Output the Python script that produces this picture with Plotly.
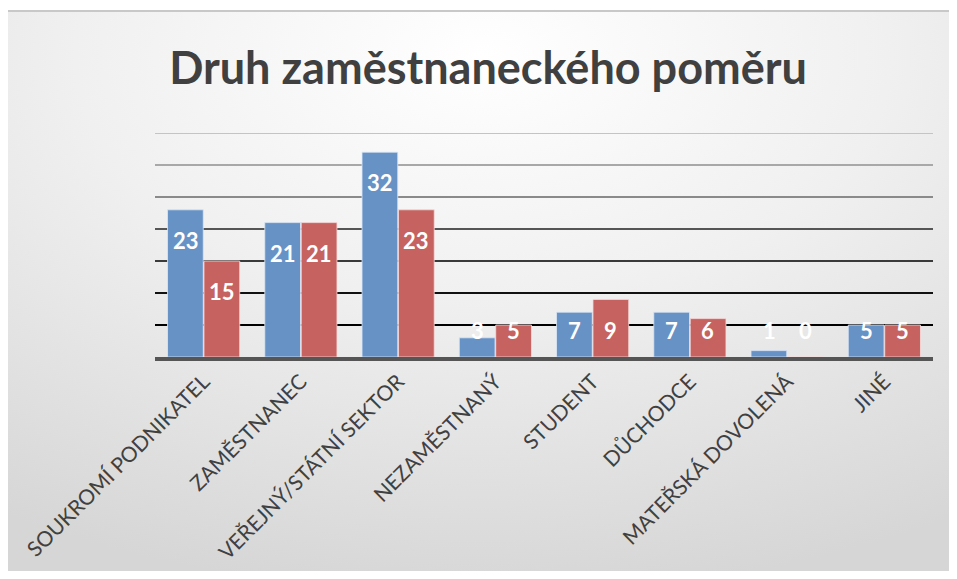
import base64
import plotly.graph_objects as go

categories = ["SOUKROMÍ PODNIKATEL", "ZAMĚSTNANEC", "VEŘEJNÝ/STÁTNÍ SEKTOR", "NEZAMĚSTNANÝ",
              "STUDENT", "DŮCHODCE", "MATEŘSKÁ DOVOLENÁ", "JINÉ"]
series_a = [23, 21, 32, 3, 7, 7, 1, 5]
series_b = [15, 21, 23, 5, 9, 6, 0, 5]
grid_values = [5, 10, 15, 20, 25, 30, 35]
grid_colors = ["#000000", "#111111", "#3a3a3a", "#555555", "#8a8a8a", "#a8a8a8", "#c4c4c4"]
title_text = "Druh zaměstnaneckého poměru"

OFF = 8  # page body margin
W, H = 957 - OFF, 579 - 2 * OFF
L, T = 155 - OFF, 133 - OFF
R = W - (933 - OFF)
B = H - (357 - OFF)
pw, ph = W - L - R, H - T - B

svg = f'''<svg xmlns="http://www.w3.org/2000/svg" width="953" height="569" viewBox="0 0 953 569">
<defs><radialGradient id="g" cx="0.5" cy="0.08" r="0.95" gradientUnits="objectBoundingBox">
<stop offset="0" stop-color="#ffffff"/><stop offset="0.45" stop-color="#f0f0f0"/><stop offset="1" stop-color="#d6d6d6"/></radialGradient></defs>
<rect x="0" y="0" width="953" height="569" fill="url(#g)"/>
<rect x="1" y="1" width="947" height="600" fill="none" stroke="#c8c8c8" stroke-width="2"/>
</svg>'''
src = "data:image/svg+xml;base64," + base64.b64encode(svg.encode()).decode()

fig = go.Figure()
blue = "#6792C6"
red = "#C6625F"
fig.add_trace(go.Bar(x=categories, y=series_a, marker=dict(color=blue, line=dict(color="rgba(220,230,245,0.8)", width=1)), name="A"))
fig.add_trace(go.Bar(x=categories, y=series_b, marker=dict(color=red, line=dict(color="rgba(245,220,220,0.8)", width=1)), name="B"))

annotations = []
for i, c in enumerate(categories):
    for vals, sh in ((series_a, -18), (series_b, 18)):
        v = vals[i]
        annotations.append(dict(x=c, y=max(v - 4.8, 4.2), xref="x", yref="y", text=f"<b>{v}</b>",
                                showarrow=False, xshift=sh, font=dict(family="Lato", size=22, color="white")))

shapes = []
for gv, gc in zip(grid_values, grid_colors):
    shapes.append(dict(type="line", xref="x domain", yref="y", x0=0, x1=1, y0=gv, y1=gv,
                       line=dict(color=gc, width=2), layer="below"))

fig.update_layout(
    width=W, height=H,
    margin=dict(l=L, r=R, t=T, b=B, autoexpand=False),
    paper_bgcolor="white", plot_bgcolor="rgba(0,0,0,0)",
    showlegend=False,
    barmode="group", bargap=0.25, bargroupgap=0.02,
    title=dict(text=f"<b>{title_text}</b>", x=((488 - OFF) / W), xref="container", xanchor="center",
               y=1 - (68 - OFF) / H, yref="container", yanchor="middle", font=dict(family="Lato", size=45, color="#404040")),
    xaxis=dict(showline=True, linecolor="#555555", linewidth=4, tickangle=-45, automargin=False,
               tickfont=dict(family="Lato", size=21, color="#404040"), ticks="", showgrid=False),
    yaxis=dict(range=[0, 35], showticklabels=False, showgrid=False, zeroline=False, automargin=False),
    annotations=annotations, shapes=shapes,
    images=[dict(source=src, xref="paper", yref="paper", x=(-2 - L) / pw, y=(H - B - 2) / ph,
                 sizex=953 / pw, sizey=569 / ph, sizing="stretch", xanchor="left", yanchor="top", layer="below")],
)
fig.write_html("out.html")
